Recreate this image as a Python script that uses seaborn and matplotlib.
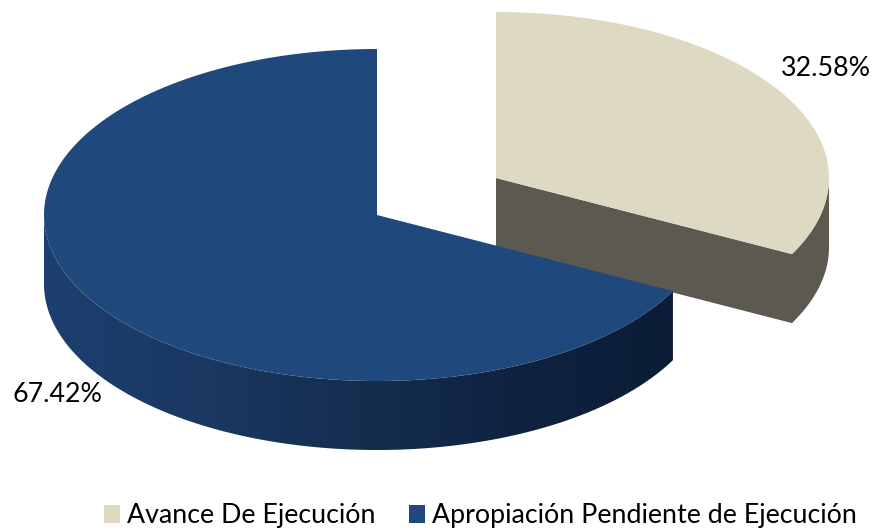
import numpy as np
import matplotlib
matplotlib.use("Agg")
import matplotlib.pyplot as plt
import seaborn as sns
from matplotlib.patches import Polygon, Patch
from matplotlib.colors import LinearSegmentedColormap

categories = ["Avance De Ejecución", "Apropiación Pendiente de Ejecución"]
values = [32.58, 67.42]
labels = ["32.58%", "67.42%"]
top_colors = ["#DDD9C3", "#1F497D"]
side_color = "#5C5A50"
wall_gradient = ["#1D4070", "#1A3862", "#152E50", "#0F2340", "#0B1D36"]

sns.set_theme(style="white")
plt.rcParams["font.family"] = ["Lato", "DejaVu Sans"]

fig = plt.figure(figsize=(8.74, 5.32), dpi=100)
ax = fig.add_axes([0, 0, 1, 1])
ax.set_xlim(0, 874)
ax.set_ylim(532, 0)
ax.axis("off")

RX, RY, DEPTH = 333, 166, 69
centers = [(496, 178), (377, 215)]


def rim(c, a0, a1, dy=0, n=300):
    t = np.radians(np.linspace(a0, a1, n))
    return np.column_stack([c[0] + RX * np.sin(t), c[1] - RY * np.cos(t) + dy])


ends = np.cumsum(values) / sum(values) * 360
a0, a1 = 0, ends[0]
b0, b1 = ends[0], 360

# pulled-out slice: cut face and outer wall as one shape, then the top
c = centers[0]
side = np.vstack([[c], rim(c, a1, 90), rim(c, 90, a1, DEPTH), [(c[0], c[1] + DEPTH)]])
ax.add_patch(Polygon(side, fc=side_color, ec="none"))
ax.add_patch(Polygon(np.vstack([[c], rim(c, a0, a1)]), fc=top_colors[0], ec="none"))

# main slice: gradient wall, top
c = centers[1]
wall = np.vstack([rim(c, b0, 270), rim(c, 270, b0, DEPTH)])
poly = Polygon(wall, fc="none", ec="none")
ax.add_patch(poly)
cmap = LinearSegmentedColormap.from_list("wall", wall_gradient)
grad = ax.imshow(np.linspace(0, 1, 256)[None, :], extent=(c[0] - RX, rim(c, b0, b0, n=1)[0][0], c[1] + RY + DEPTH, c[1]),
                 cmap=cmap, aspect="auto", zorder=1)
grad.set_clip_path(poly)
ax.set_xlim(0, 874)
ax.set_ylim(532, 0)
ax.add_patch(Polygon(np.vstack([[c], rim(c, b0, b1)]), fc=top_colors[1], ec="none", zorder=2))

ax.text(826, 68, labels[0], ha="center", va="center", fontsize=19.3, color="black", zorder=3)
ax.text(57, 394, labels[1], ha="center", va="center", fontsize=19.3, color="black", zorder=3)

handles = [Patch(fc=col, ec="none") for col in top_colors]
ax.legend(handles, categories, ncol=2, loc="center", bbox_to_anchor=(480.5, 516),
          bbox_transform=ax.transData, frameon=False, fontsize=19.3, handlelength=0.6,
          handleheight=0.62, handletextpad=0.27, columnspacing=1.25, labelcolor="black",
          borderpad=0, borderaxespad=0)

fig.savefig("out.png", dpi=100)
